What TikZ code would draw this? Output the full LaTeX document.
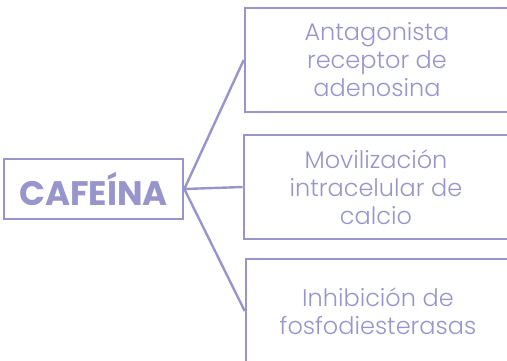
\documentclass[tikz,border=0pt]{standalone}
\usepackage{fontspec}
\setmainfont{Poppins}
\newfontfamily\fuenteligera{Poppins Light}
\definecolor{lavanda}{RGB}{152,149,204}
\tikzset{
    caja/.style={draw=lavanda, line width=2.6pt, text=lavanda, align=center,
        minimum width=264pt, minimum height=104pt, inner sep=0pt,
        font=\fuenteligera\fontsize{24}{28}\selectfont},
    conector/.style={draw=lavanda, line width=2.4pt}
}
\begin{document}
\begin{tikzpicture}[x=1pt, y=-1pt]
        % Marco de la figura
        \useasboundingbox (0,0) rectangle (507,360);
        \clip (0,0) rectangle (507,360);

        % Nodo central
        \node[draw=lavanda, line width=2.6pt, text=lavanda, minimum width=179pt,
            minimum height=60pt, inner sep=0pt, font=\fontsize{34}{36}\selectfont\bfseries]
            (cafeina) at (93.5,189) {CAFEÍNA};

        % Efectos
        \node[caja] (antagonista) at (377,60) {Antagonista\\receptor de\\adenosina};
        \node[caja] (movilizacion) at (376,187) {Movilización\\intracelular de\\calcio};
        \node[caja] (inhibicion) at (378,311) {Inhibición de\\fosfodiesterasas};

        % Conectores
        \draw[conector] (cafeina.east) -- (antagonista.west);
        \draw[conector] (cafeina.east) -- (movilizacion.west);
        \draw[conector] (cafeina.east) -- (inhibicion.west);
    \end{tikzpicture}
\end{document}
